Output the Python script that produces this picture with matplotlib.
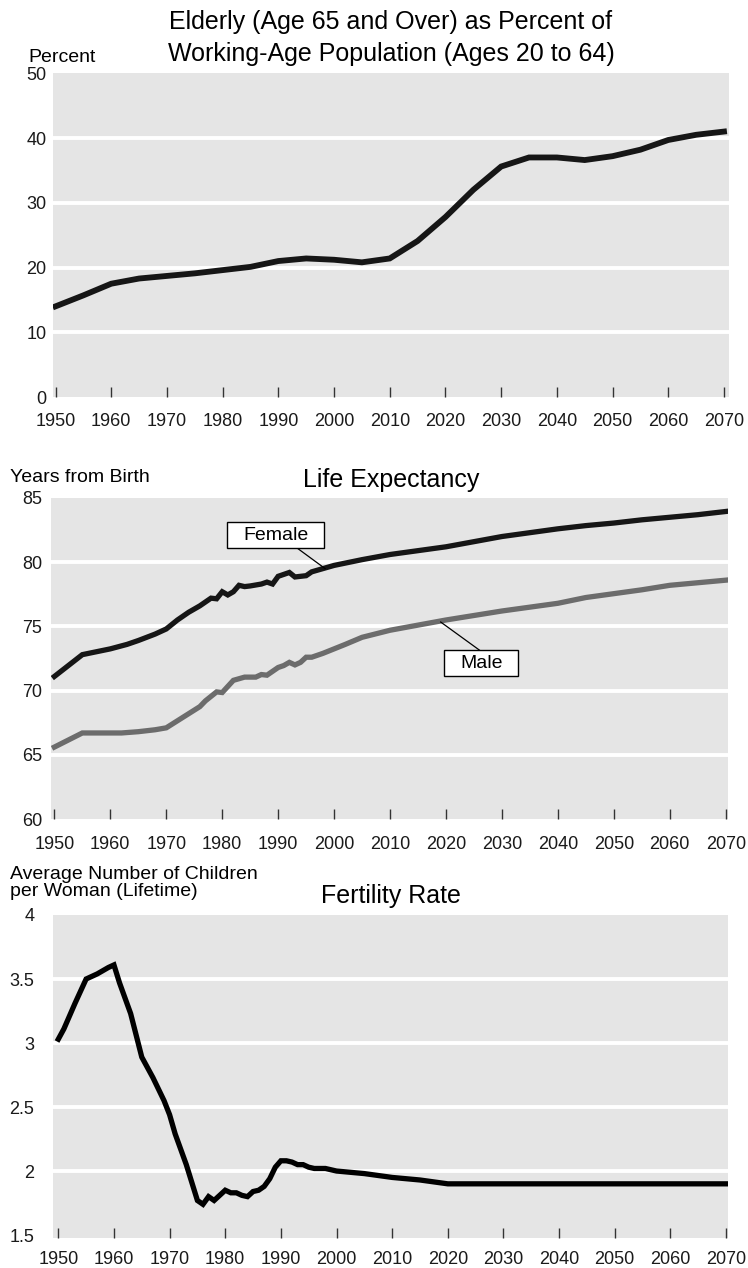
import matplotlib
matplotlib.use('Agg')
import matplotlib.pyplot as plt
from matplotlib.patches import Rectangle

plt.rcParams['font.family'] = ['Liberation Sans', 'DejaVu Sans']

# ── Data ──────────────────────────────────────────────────────────────────────
XTICKS = [1950, 1960, 1970, 1980, 1990, 2000, 2010, 2020, 2030, 2040, 2050, 2060, 2070]

eld_years = [1950, 1955, 1960, 1965, 1970, 1975, 1980, 1985, 1990, 1995, 2000, 2005,
             2010, 2015, 2020, 2025, 2030, 2035, 2040, 2045, 2050, 2055, 2060, 2065, 2070]
eld_pct = [14.0, 15.7, 17.5, 18.3, 18.7, 19.1, 19.6, 20.1, 21.0, 21.4, 21.2, 20.8,
           21.4, 24.1, 27.8, 32.0, 35.6, 37.0, 37.0, 36.6, 37.2, 38.2, 39.7, 40.5, 41.0]
eld_yticks = [0, 10, 20, 30, 40, 50]

fem_years = [1950, 1955, 1960, 1963, 1965, 1968, 1970, 1972, 1974, 1976, 1978, 1979,
             1980, 1981, 1982, 1983, 1984, 1985, 1987, 1988, 1989, 1990, 1991, 1992,
             1993, 1995, 1996, 1998, 2000, 2005, 2010, 2015, 2020, 2025, 2030, 2035,
             2040, 2045, 2050, 2055, 2060, 2065, 2070]
fem_life = [71.1, 72.8, 73.25, 73.6, 73.9, 74.4, 74.8, 75.5, 76.1, 76.6, 77.2, 77.15,
            77.7, 77.45, 77.7, 78.2, 78.1, 78.15, 78.3, 78.45, 78.3, 78.9, 79.05, 79.2,
            78.85, 78.95, 79.25, 79.5, 79.75, 80.2, 80.6, 80.9, 81.2, 81.6, 82.0, 82.3,
            82.6, 82.85, 83.05, 83.3, 83.5, 83.7, 83.95]

male_years = [1950, 1955, 1960, 1962, 1965, 1968, 1970, 1972, 1974, 1976, 1977, 1979,
              1980, 1982, 1984, 1986, 1987, 1988, 1990, 1991, 1992, 1993, 1994, 1995,
              1996, 1998, 2000, 2002, 2005, 2010, 2015, 2020, 2025, 2030, 2035, 2040,
              2045, 2050, 2055, 2060, 2065, 2070]
male_life = [65.6, 66.7, 66.7, 66.7, 66.8, 66.95, 67.1, 67.65, 68.2, 68.75, 69.2, 69.9,
             69.85, 70.8, 71.05, 71.05, 71.25, 71.2, 71.8, 71.95, 72.2, 72.0, 72.2, 72.6,
             72.6, 72.9, 73.25, 73.6, 74.15, 74.7, 75.1, 75.5, 75.85, 76.2, 76.5, 76.8,
             77.25, 77.55, 77.85, 78.2, 78.4, 78.6]
life_yticks = [60, 65, 70, 75, 80, 85]

fert_years = [1950, 1951, 1953, 1955, 1957, 1959, 1960, 1961, 1963, 1965, 1967, 1969,
              1970, 1971, 1973, 1975, 1976, 1977, 1978, 1979, 1980, 1981, 1982, 1983,
              1984, 1985, 1986, 1987, 1988, 1989, 1990, 1991, 1992, 1993, 1994, 1995,
              1996, 1998, 2000, 2005, 2010, 2015, 2020, 2030, 2040, 2050, 2060, 2070]
fert_rate = [3.03, 3.11, 3.31, 3.50, 3.54, 3.59, 3.61, 3.47, 3.23, 2.89, 2.73, 2.55,
             2.44, 2.29, 2.05, 1.77, 1.74, 1.80, 1.77, 1.81, 1.85, 1.83, 1.83, 1.81,
             1.80, 1.84, 1.85, 1.88, 1.94, 2.03, 2.08, 2.08, 2.07, 2.05, 2.05, 2.03,
             2.02, 2.02, 2.00, 1.98, 1.95, 1.93, 1.90, 1.90, 1.90, 1.90, 1.90, 1.90]
fert_yticks = [1.5, 2, 2.5, 3, 3.5, 4]
fert_ylabels = ['1.5', '2', '2.5', '3', '3.5', '4']

# ── Style ─────────────────────────────────────────────────────────────────────
W, H = 748, 1268
BG = '#e5e5e5'
DARK = '#161616'
MALE = '#6c6c6c'
TICK_FS = 13
LABEL_FS = 14
TITLE_FS = 18

fig = plt.figure(figsize=(W / 100, H / 100), dpi=100)


def px_axes(left, top, right, bottom):
    return fig.add_axes([left / W, 1 - bottom / H, (right - left) / W, (bottom - top) / H])


def style(ax, xlim, ylim, yticks, ylabels, ypad, xpad):
    ax.set_facecolor(BG)
    for s in ax.spines.values():
        s.set_visible(False)
    ax.set_xlim(*xlim)
    ax.set_ylim(*ylim)
    ax.set_xticks(XTICKS)
    ax.set_xticklabels([str(y) for y in XTICKS])
    ax.set_yticks(yticks)
    ax.set_yticklabels(ylabels)
    ax.tick_params(axis='x', direction='in', length=7, width=1.0, color='#333333',
                   labelsize=TICK_FS, pad=xpad, labelcolor='#1a1a1a')
    ax.tick_params(axis='y', length=0, labelsize=TICK_FS, pad=ypad, labelcolor='#1a1a1a')
    for y in yticks[1:-1]:
        ax.axhline(y, color='white', lw=2.8, zorder=1)


def fig_text(x, y, s, **kw):
    fig.text(x / W, 1 - y / H, s, va='baseline', **kw)


# ── Panel 1: elderly share ────────────────────────────────────────────────────
ax1 = px_axes(53.3, 73.3, 729, 397)
style(ax1, (1949.6, 2070.9), (0, 50), eld_yticks, [str(v) for v in eld_yticks], 4.8, 11.5)
ax1.plot(eld_years, eld_pct, color=DARK, lw=4.2, solid_joinstyle='miter', zorder=3)
fig_text(391, 29.5, 'Elderly (Age 65 and Over) as Percent of', ha='center', fontsize=TITLE_FS)
fig_text(391, 60.5, 'Working-Age Population (Ages 20 to 64)', ha='center', fontsize=TITLE_FS)
fig_text(28, 61.7, 'Percent', ha='left', fontsize=LABEL_FS)

# ── Panel 2: life expectancy ──────────────────────────────────────────────────
ax2 = px_axes(51, 498, 728, 819)
style(ax2, (1949.4, 2070.4), (60, 85), life_yticks, [str(v) for v in life_yticks], 6.3, 12.2)
ax2.plot(male_years, male_life, color=MALE, lw=3.8, solid_joinstyle='miter', zorder=3)
ax2.plot(fem_years, fem_life, color=DARK, lw=3.8, solid_joinstyle='miter', zorder=3)

ax2.plot([1993.3, 1998.4], [81.13, 79.5], color='black', lw=0.9, zorder=4)
ax2.add_patch(Rectangle((1980.9, 81.13), 17.3, 2.02, facecolor='white',
                        edgecolor='black', lw=1.0, zorder=5))
ax2.text(1989.7, 82.1, 'Female', ha='center', va='center', fontsize=LABEL_FS, zorder=6)

ax2.plot([2025.95, 2019.05], [73.16, 75.34], color='black', lw=0.9, zorder=4)
ax2.add_patch(Rectangle((2019.7, 71.14), 13.2, 2.02, facecolor='white',
                        edgecolor='black', lw=1.0, zorder=5))
ax2.text(2026.4, 72.12, 'Male', ha='center', va='center', fontsize=LABEL_FS, zorder=6)

fig_text(10.5, 481.7, 'Years from Birth', ha='left', fontsize=LABEL_FS)
fig_text(391, 487.3, 'Life Expectancy', ha='center', fontsize=TITLE_FS)

# ── Panel 3: fertility rate ───────────────────────────────────────────────────
ax3 = px_axes(53.3, 915, 727.7, 1237.6)
style(ax3, (1949.1, 2070.3), (1.48, 4.0), fert_yticks, fert_ylabels, 13.7, 10.0)
ax3.plot(fert_years, fert_rate, color='black', lw=3.8, solid_joinstyle='miter', zorder=3)

fig_text(10.5, 879.3, 'Average Number of Children', ha='left', fontsize=LABEL_FS)
fig_text(10.5, 896, 'per Woman (Lifetime)', ha='left', fontsize=LABEL_FS)
fig_text(391, 903.3, 'Fertility Rate', ha='center', fontsize=TITLE_FS)

fig.savefig('out.png', dpi=100)
